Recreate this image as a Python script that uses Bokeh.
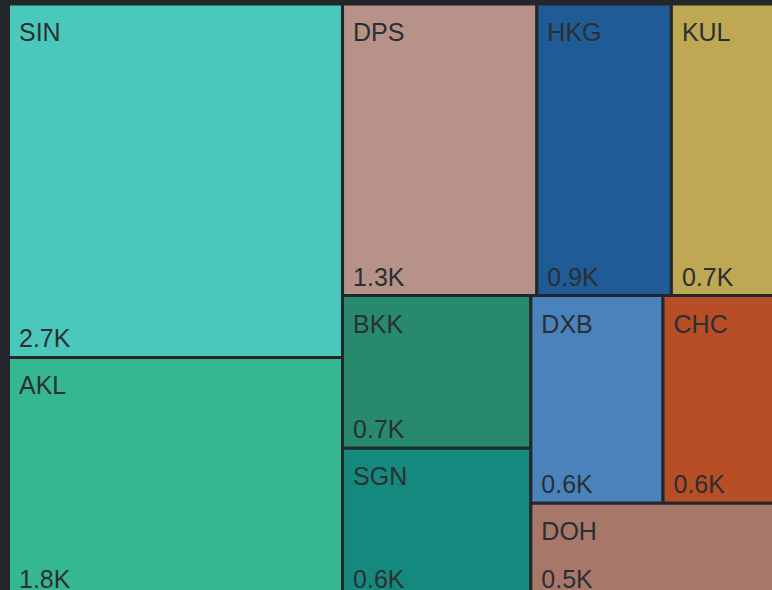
import math
from bokeh.plotting import figure
from bokeh.models import ColumnDataSource, Range1d, GlobalInlineStyleSheet
from bokeh.core.properties import value
from bokeh.embed import file_html
from bokeh.resources import INLINE

# ---- data ----
codes = ["SIN", "AKL", "DPS", "HKG", "KUL", "BKK", "SGN", "DXB", "CHC", "DOH"]
counts = [2710, 1840, 1300, 900, 730, 660, 645, 630, 560, 540]
colors = ["#4ac8bb", "#35b891", "#b79288", "#1f5b95", "#bfa853",
          "#278a6d", "#148a7e", "#4a82bc", "#b74e26", "#a77869"]

BG = "#23262b"
TXT = "#2b2e33"

# treemap extent (page pixel coordinates, y downward)
X0, Y0, X1, Y1 = 8.0, 3.5, 780.0, 597.0
PHI = (1 + math.sqrt(5)) / 2


def squarify(vals, x0, y0, x1, y1, ratio=PHI):
    rects = [None] * len(vals)
    n = len(vals)
    i0 = i1 = 0
    total = float(sum(vals))
    while i0 < n:
        dx, dy = x1 - x0, y1 - y0
        s = vals[i1]; i1 += 1
        mn = mx = s
        alpha = max(dy / dx, dx / dy) / (total * ratio)
        beta = s * s * alpha
        min_ratio = max(mx / beta, beta / mn)
        while i1 < n:
            v = vals[i1]
            s2 = s + v
            mn2, mx2 = min(mn, v), max(mx, v)
            beta = s2 * s2 * alpha
            nr = max(mx2 / beta, beta / mn2)
            if nr > min_ratio:
                break
            s, mn, mx, min_ratio = s2, mn2, mx2, nr
            i1 += 1
        idx = list(range(i0, i1))
        if dx < dy:  # dice: horizontal row on top
            h = dy * s / total
            cx = x0
            for i in idx:
                w = dx * vals[i] / s
                rects[i] = (cx, y0, cx + w, y0 + h)
                cx += w
            y0 += h
        else:  # slice: vertical column at left
            w = dx * s / total
            cy = y0
            for i in idx:
                h = dy * vals[i] / s
                rects[i] = (x0, cy, x0 + w, cy + h)
                cy += h
            x0 += w
        total -= s
        i0 = i1
    return rects


rects = squarify(counts, X0, Y0, X1, Y1)
left = [r[0] for r in rects]
top = [r[1] for r in rects]
right = [r[2] for r in rects]
bottom = [r[3] for r in rects]

src = ColumnDataSource(dict(
    left=left, right=right, top=top, bottom=bottom, color=colors,
    name=codes, val=["%.1fK" % (c / 1000) for c in counts],
    tx=[l + 10.5 for l in left],
    ny=[t + 28 for t in top],
    vy=[b - 19 for b in bottom],
))

p = figure(width=772, height=590, output_backend="svg", toolbar_location=None,
           x_range=Range1d(0, 772), y_range=Range1d(590, 0),
           min_border=0, background_fill_color=BG, border_fill_color=BG)
p.axis.visible = False
p.grid.visible = False
p.outline_line_color = None
p.stylesheets = [GlobalInlineStyleSheet(css="body{background-color:%s;}" % BG)]

p.quad(left="left", right="right", top="top", bottom="bottom", source=src,
       fill_color="color", line_color=BG, line_width=3)
p.text(x="tx", y="ny", text="name", source=src, text_color=TXT,
       text_font=value("Liberation Sans"), text_font_size="25px",
       text_baseline="alphabetic", text_align="left")
p.text(x="tx", y="vy", text="val", source=src, text_color=TXT,
       text_font=value("Liberation Sans"), text_font_size="25px",
       text_baseline="alphabetic", text_align="left")

open("out.html", "w").write(file_html(p, INLINE))
